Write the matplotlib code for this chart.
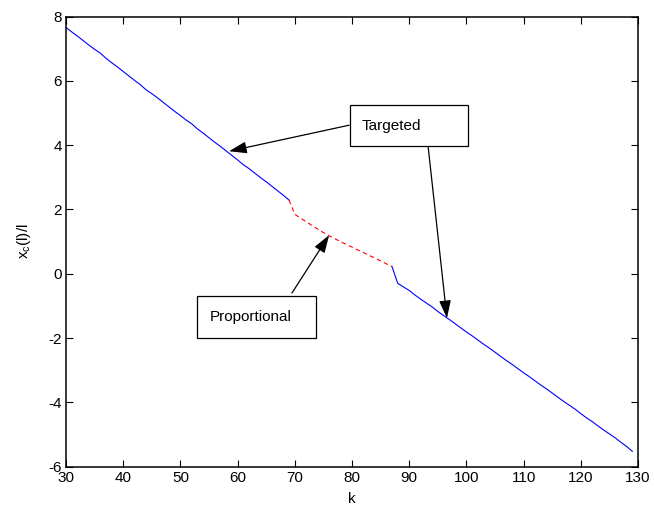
import matplotlib
matplotlib.use("Agg")
import matplotlib.pyplot as plt
from matplotlib.patches import Rectangle

plt.rcParams['font.family'] = ['Liberation Sans', 'DejaVu Sans']
plt.rcParams['mathtext.default'] = 'regular'
plt.rcParams['axes.unicode_minus'] = False

# Targeted (first part)
k1 = list(range(30, 70))
y1 = [7.66, 7.52, 7.39, 7.25, 7.11, 6.98, 6.86, 6.70, 6.56, 6.43,
      6.29, 6.15, 6.01, 5.88, 5.72, 5.60, 5.47, 5.33, 5.19, 5.05,
      4.92, 4.78, 4.66, 4.50, 4.37, 4.23, 4.09, 3.96, 3.82, 3.68,
      3.54, 3.39, 3.27, 3.13, 2.99, 2.86, 2.72, 2.58, 2.44, 2.29]
# Proportional
k2 = list(range(69, 88))
y2 = [2.29, 1.85, 1.73, 1.62, 1.50, 1.39, 1.28, 1.18, 1.09, 1.00,
      0.91, 0.83, 0.74, 0.66, 0.57, 0.49, 0.40, 0.31, 0.22]
# Targeted (second part)
k3 = list(range(87, 130))
y3 = [0.22, -0.30, -0.41, -0.52, -0.66, -0.79, -0.91, -1.03, -1.17, -1.30,
      -1.42, -1.55, -1.68, -1.81, -1.93, -2.06, -2.19, -2.31, -2.44, -2.57,
      -2.70, -2.82, -2.95, -3.08, -3.20, -3.33, -3.46, -3.58, -3.71, -3.84,
      -3.97, -4.09, -4.21, -4.35, -4.48, -4.60, -4.73, -4.86, -4.98, -5.10,
      -5.24, -5.37, -5.52]

xticks = list(range(30, 131, 10))
yticks = list(range(-6, 9, 2))

fig = plt.figure(figsize=(6.54, 5.19), dpi=100)
ax = fig.add_axes([66/654, 1 - 466.7/519, (638-66)/654, (466.7-16.5)/519])

ax.plot(k1, y1, color='blue', lw=0.8)
ax.plot(k2, y2, color='red', lw=0.8, ls=(0, (4, 3)))
ax.plot(k3, y3, color='blue', lw=0.8)

ax.set_xlim(30, 130)
ax.set_ylim(-6, 8)
ax.set_xticks(xticks)
ax.set_yticks(yticks)
ax.tick_params(direction='in', length=5, width=0.8, top=True, right=True,
               labelsize=11, pad=3, colors='black')
for s in ax.spines.values():
    s.set_linewidth(1.1)

ax.set_xlabel('k', fontsize=11, labelpad=5)
ax.set_ylabel('x$_c$(l)/l', fontsize=11, labelpad=11)

# annotation boxes
ax.add_patch(Rectangle((79.7, 3.97), 20.6, 1.28, fill=True, facecolor='white',
                       edgecolor='black', lw=0.9, zorder=5))
ax.text(81.7, 4.61, 'Targeted', fontsize=11, va='center', ha='left', zorder=6)
ax.add_patch(Rectangle((52.9, -2.0), 20.8, 1.31, fill=True, facecolor='white',
                       edgecolor='black', lw=0.9, zorder=5))
ax.text(55.2, -1.35, 'Proportional', fontsize=11, va='center', ha='left', zorder=6)

ap = dict(arrowstyle='-|>,head_length=0.9,head_width=0.3', color='black',
          lw=0.9, shrinkA=0, shrinkB=0, mutation_scale=12)
ax.annotate('', xy=(58.5, 3.81), xytext=(79.5, 4.62), arrowprops=ap, zorder=4)
ax.annotate('', xy=(96.6, -1.38), xytext=(93.3, 3.97), arrowprops=ap, zorder=4)
ax.annotate('', xy=(76.0, 1.2), xytext=(69.5, -0.6), arrowprops=ap, zorder=4)

fig.savefig('out.png', dpi=100)
